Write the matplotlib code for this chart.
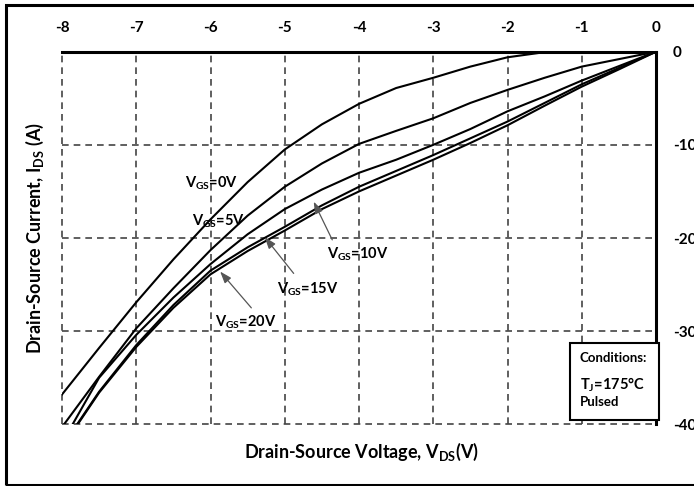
import matplotlib
matplotlib.use("Agg")
import matplotlib.pyplot as plt
from matplotlib.patches import Rectangle

# ---- data ----
vds = [0, -0.5, -1, -1.5, -2, -2.5, -3, -3.5, -4, -4.5, -5, -5.5, -6, -6.5, -7, -7.5, -8]
ids_vgs0 = [0, 0, 0, -0.05, -0.6, -1.6, -2.8, -3.9, -5.6, -7.8, -10.5, -14.0, -18.0, -22.3, -26.9, -31.8, -36.8]
ids_vgs5 = [0, -0.8, -1.6, -2.8, -4.1, -5.5, -7.15, -8.5, -9.9, -12.0, -14.5, -17.6, -21.3, -25.4, -29.7, -34.9, -40.3]
ids_vgs10 = [0, -1.55, -3.1, -4.8, -6.4, -8.3, -10.0, -11.6, -13.0, -14.8, -16.9, -19.6, -22.8, -26.4, -30.4, -35.0, -42.0]
ids_vgs15 = [0, -1.75, -3.5, -5.5, -7.5, -9.3, -11.1, -12.8, -14.5, -16.5, -18.8, -21.0, -23.5, -27.2, -31.5, -36.5, -42.4]
ids_vgs20 = [0, -1.9, -3.75, -5.8, -7.9, -9.8, -11.6, -13.3, -15.0, -16.9, -19.2, -21.4, -23.9, -27.5, -31.7, -36.6, -42.5]
series = [ids_vgs0, ids_vgs5, ids_vgs10, ids_vgs15, ids_vgs20]
series_labels = [r"V$_{GS}$=0V", r"V$_{GS}$=5V", r"V$_{GS}$=10V", r"V$_{GS}$=15V", r"V$_{GS}$=20V"]

x_ticks = [-8, -7, -6, -5, -4, -3, -2, -1, 0]
x_tick_labels = ["-8", "-7", "-6", "-5", "-4", "-3", "-2", "-1", "0"]
y_ticks = [0, -10, -20, -30, -40]
y_tick_labels = ["0", "-10", "-20", "-30", "-40"]

xlabel = r"Drain-Source Voltage, V$_{DS}$(V)"
ylabel = r"Drain-Source Current, I$_{DS}$ (A)"
cond_lines = ["Conditions:", r"T$_{J}$=175°C", "Pulsed"]

# ---- style ----
plt.rcParams['font.family'] = ['Lato', 'DejaVu Sans']
plt.rcParams['font.weight'] = 'bold'
plt.rcParams['mathtext.fontset'] = 'custom'
plt.rcParams['mathtext.rm'] = 'Lato:bold'
plt.rcParams['mathtext.it'] = 'Lato:bold'
plt.rcParams['mathtext.bf'] = 'Lato:bold'
plt.rcParams['mathtext.default'] = 'rm'

W, H = 694, 486
fig = plt.figure(figsize=(W / 100, H / 100), dpi=100)
ax = fig.add_axes([62 / W, 1 - 424.3 / H, (656 - 62) / W, (424.3 - 51.7) / H])

ax.set_xlim(-8, 0)
ax.set_ylim(-40, 0)

# dashed grid (including edges)
for xv in x_ticks[:-1]:
    ax.axvline(xv, color='#444444', lw=1.2, ls=(0, (4, 3)), clip_on=False, zorder=1)
for yv in y_ticks[1:]:
    ax.axhline(yv, color='#444444', lw=1.2, ls=(0, (4, 3)), clip_on=False, zorder=1)

for ys in series:
    ax.plot(vds, ys, color='black', lw=1.5, zorder=3)

for s in ['left', 'bottom']:
    ax.spines[s].set_visible(False)
for s in ['top', 'right']:
    ax.spines[s].set_linewidth(2.2)
    ax.spines[s].set_zorder(4)

ax.xaxis.tick_top()
ax.yaxis.tick_right()
ax.set_xticks(x_ticks)
ax.set_xticklabels(x_tick_labels)
ax.set_yticks(y_ticks)
ax.set_yticklabels(y_tick_labels)
ax.tick_params(axis='x', length=0, pad=12, labelsize=11)
ax.tick_params(axis='y', length=0, pad=12, labelsize=11)
for lab in ax.get_xticklabels() + ax.get_yticklabels():
    lab.set_fontweight('bold')
for lab in ax.get_yticklabels():
    lab.set_horizontalalignment('left')

# curve labels and arrows
fs = 10.5
ax.text(-6.34, -14.1, series_labels[0], fontsize=fs, va='center', ha='left', zorder=5)
ax.text(-6.25, -18.2, series_labels[1], fontsize=fs, va='center', ha='left', zorder=5)
ax.text(-4.43, -21.7, series_labels[2], fontsize=fs, va='center', ha='left', zorder=5)
ax.text(-5.10, -25.5, series_labels[3], fontsize=fs, va='center', ha='left', zorder=5)
ax.text(-5.94, -29.1, series_labels[4], fontsize=fs, va='center', ha='left', zorder=5)

arrow_kw = dict(arrowstyle='-|>,head_length=0.7,head_width=0.25', color='#555555', lw=0.9,
                shrinkA=0, shrinkB=0)
ax.annotate('', xy=(-4.61, -16.1), xytext=(-4.36, -20.2), arrowprops=arrow_kw, zorder=5)
ax.annotate('', xy=(-5.27, -19.9), xytext=(-4.88, -23.8), arrowprops=arrow_kw, zorder=5)
ax.annotate('', xy=(-5.87, -23.6), xytext=(-5.45, -27.5), arrowprops=arrow_kw, zorder=5)

# axis labels
fig.text(361 / W, 1 - 452 / H, xlabel, fontsize=13, ha='center', va='center', fontweight='bold')
fig.text(35 / W, 1 - 238 / H, ylabel, fontsize=13, ha='center', va='center', rotation=90,
         fontweight='bold')

# conditions box
fig.patches.append(Rectangle((570 / W, 1 - 420 / H), 89 / W, 77 / H, transform=fig.transFigure,
                             facecolor='white', edgecolor='black', lw=1.5, zorder=10))
fig.text(580 / W, 1 - 358 / H, cond_lines[0], fontsize=9.5, ha='left', va='center', zorder=11)
fig.text(580 / W, 1 - 385 / H, cond_lines[1], fontsize=10.5, ha='left', va='center', zorder=11)
fig.text(580 / W, 1 - 402 / H, cond_lines[2], fontsize=9.5, ha='left', va='center', zorder=11)

# outer frame
fig.patches.append(Rectangle((5.5 / W, 1.5 / H), 1.2, 1 - 7 / H, transform=fig.transFigure,
                             facecolor='none', edgecolor='black', lw=2.2, zorder=0))

fig.savefig('out.png', dpi=100)
